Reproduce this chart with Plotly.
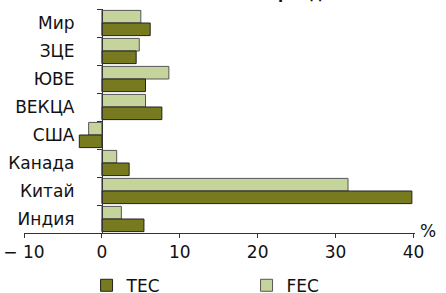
import plotly.graph_objects as go

categories = ["Мир", "ЗЦЕ", "ЮВЕ", "ВЕКЦА", "США", "Канада", "Китай", "Индия"]
tec = [6.2, 4.4, 5.6, 7.7, -2.9, 3.5, 39.8, 5.4]
fec = [5.0, 4.8, 8.6, 5.6, -1.7, 1.9, 31.6, 2.5]
xticks = [-10, 0, 10, 20, 30, 40]
xticklabels = ["− 10", "0", "10", "20", "30", "40"]

FONT = "DejaVu Sans"
XMIN, XMAX = -10, 40.2

fig = go.Figure()
fig.add_trace(go.Bar(y=categories, x=fec, orientation="h", name="FEC", legendrank=2,
                     marker=dict(color="#c5d49b", line=dict(color="#555555", width=1))))
fig.add_trace(go.Bar(y=categories, x=tec, orientation="h", name="TEC", legendrank=1,
                     marker=dict(color="#787a1f", line=dict(color="#222222", width=1))))

fig.update_layout(
    width=446, height=293,
    margin=dict(l=24, r=31, t=9, b=60, autoexpand=False),
    paper_bgcolor="white", plot_bgcolor="white",
    font=dict(family=FONT, size=17, color="#111111"),
    barmode="group", bargap=0.1, bargroupgap=0.0,
    showlegend=True,
    legend=dict(orientation="h", x=0.16, xanchor="left", y=-0.155, yanchor="top",
                font=dict(size=17), tracegroupgap=0, entrywidth=115,
                entrywidthmode="pixels"),
    xaxis=dict(range=[XMIN, XMAX], tickvals=xticks, ticktext=xticklabels,
               showgrid=False, zeroline=False, showline=True, linecolor="#333333",
               linewidth=1, ticks="outside", ticklen=4, tickcolor="#333333",
               tickfont=dict(size=17), automargin=False),
    yaxis=dict(autorange="reversed", showgrid=False, zeroline=False, showline=True,
               linecolor="#333333", linewidth=1,
               ticks="outside", tickson="boundaries", ticklen=5, tickcolor="#333333",
               tickfont=dict(size=17), anchor="free",
               position=(0 - XMIN) / (XMAX - XMIN), automargin=False,
               ticklabelstandoff=24),
)

fig.add_annotation(text="%", xref="paper", yref="paper", x=1.0, y=0.0,
                   xanchor="left", yanchor="middle", xshift=3, yshift=2, showarrow=False,
                   font=dict(size=17))
fig.add_annotation(text="<b>Изменение за период</b>", xref="paper", yref="paper",
                   x=0.52, y=1, yshift=4, xanchor="center", yanchor="bottom",
                   showarrow=False, font=dict(size=15))

fig.write_html("out.html", config={"displayModeBar": False},
               post_script="document.body.style.margin='0';document.body.style.padding='0';")
